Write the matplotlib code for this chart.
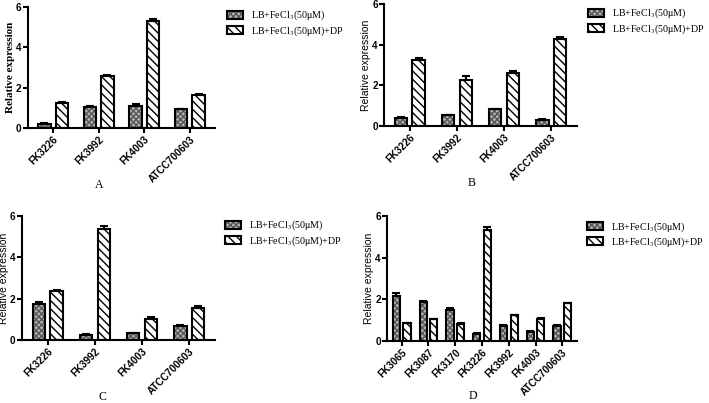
import matplotlib
matplotlib.use('Agg')
import matplotlib.pyplot as plt
from matplotlib.patches import Patch
from matplotlib.legend_handler import HandlerTuple
import numpy as np

plt.rcParams['hatch.linewidth'] = 1.0
plt.rcParams['mathtext.fontset'] = 'stix'

# panel A
strains_a = ['FK3226', 'FK3992', 'FK4003', 'ATCC700603']
fe_a = [0.22, 1.06, 1.08, 0.93]
fe_err_a = [0.03, 0.05, 0.10, 0.03]
dp_a = [1.23, 2.56, 5.30, 1.64]
dp_err_a = [0.04, 0.08, 0.12, 0.03]

# panel B
strains_b = ['FK3226', 'FK3992', 'FK4003', 'ATCC700603']
fe_b = [0.41, 0.52, 0.83, 0.31]
fe_err_b = [0.02, 0.02, 0.03, 0.03]
dp_b = [3.24, 2.28, 2.60, 4.28]
dp_err_b = [0.12, 0.16, 0.10, 0.10]

# panel C
strains_c = ['FK3226', 'FK3992', 'FK4003', 'ATCC700603']
fe_c = [1.74, 0.26, 0.34, 0.68]
fe_err_c = [0.12, 0.03, 0.02, 0.03]
dp_c = [2.35, 5.37, 1.03, 1.56]
dp_err_c = [0.05, 0.17, 0.06, 0.10]

# panel D
strains_d = ['FK3065', 'FK3087', 'FK3170', 'FK3226', 'FK3992', 'FK4003', 'ATCC700603']
fe_d = [2.18, 1.86, 1.49, 0.35, 0.73, 0.45, 0.74]
fe_err_d = [0.14, 0.06, 0.08, 0.02, 0.03, 0.02, 0.03]
dp_d = [0.85, 1.05, 0.83, 5.32, 1.24, 1.07, 1.81]
dp_err_d = [0.02, 0.02, 0.02, 0.14, 0.02, 0.03, 0.03]

label_fe = 'LB+FeCl$_3$(50μM)'
label_dp = 'LB+FeCl$_3$(50μM)+DP'

W, H = 709, 403
fig = plt.figure(figsize=(W / 100, H / 100), dpi=100)

FE_HATCH = 'xxxxxx'
DP_HATCH = '\\\\\\\\'


def px_axes(left, right, top, bottom):
    return fig.add_axes((left / W, 1 - bottom / H, (right - left) / W, (bottom - top) / H))


def draw_panel(ax, strains, fe, fe_err, dp, dp_err, width, off, ylabel_serif=False):
    x = np.arange(len(strains))
    # checkered bars for FeCl3
    ax.bar(x - off, fe, width, color='#b4b4b4', hatch=FE_HATCH, edgecolor='#555555', linewidth=0, zorder=2)
    ax.bar(x - off, fe, width, fill=False, edgecolor='black', linewidth=1.5, zorder=3)
    ax.errorbar(x - off, fe, yerr=[np.zeros(len(fe)), fe_err], fmt='none', ecolor='black',
                elinewidth=1.5, capsize=3, capthick=1.5, zorder=4)
    # striped bars for +DP
    ax.bar(x + off, dp, width, color='white', hatch=DP_HATCH, edgecolor='black', linewidth=1.5, zorder=2)
    ax.errorbar(x + off, dp, yerr=[np.zeros(len(dp)), dp_err], fmt='none', ecolor='black',
                elinewidth=1.5, capsize=3, capthick=1.5, zorder=4)

    ax.set_ylim(0, 6)
    ax.set_yticks([0, 2, 4, 6])
    ax.set_xlim(-0.55, len(strains) - 0.45)
    ax.set_xticks(x)
    ax.set_xticklabels(strains, rotation=45, ha='right', rotation_mode='anchor',
                       fontsize=7.2, fontweight='bold', family='Liberation Sans')
    for t in ax.get_yticklabels():
        t.set_fontsize(7.2)
        t.set_fontweight('bold')
        t.set_family('Liberation Sans')
    for s in ['top', 'right']:
        ax.spines[s].set_visible(False)
    for s in ['left', 'bottom']:
        ax.spines[s].set_linewidth(1.5)
    ax.tick_params(axis='both', width=1.5, length=3.5, pad=1)
    if ylabel_serif:
        ax.set_ylabel('Relative expression', fontsize=8, fontweight='bold',
                      family='Liberation Serif', labelpad=1)
    else:
        ax.set_ylabel('Relative expression', fontsize=7.5, family='Liberation Sans', labelpad=0.5)


def add_legend(ax, x, y):
    h_fe = (Patch(facecolor='#b4b4b4', hatch=FE_HATCH, edgecolor='#555555', linewidth=0),
            Patch(fill=False, edgecolor='black', linewidth=1.5))
    h_dp = Patch(facecolor='white', hatch=DP_HATCH, edgecolor='black', linewidth=1.5)
    ax.legend([h_fe, h_dp], [label_fe, label_dp], handler_map={tuple: HandlerTuple(ndivide=1)},
              loc='upper left', bbox_to_anchor=(x / W, 1 - y / H), bbox_transform=fig.transFigure,
              frameon=False, borderpad=0, borderaxespad=0, handlelength=1.6, handleheight=0.85,
              handletextpad=0.8, labelspacing=0.15, prop={'family': 'Liberation Serif', 'size': 7.2})


ax_a = px_axes(28, 215, 7, 128)
draw_panel(ax_a, strains_a, fe_a, fe_err_a, dp_a, dp_err_a, 0.27, 0.19, ylabel_serif=True)
add_legend(ax_a, 227, 9)

ax_b = px_axes(384, 577, 4, 126)
draw_panel(ax_b, strains_b, fe_b, fe_err_b, dp_b, dp_err_b, 0.27, 0.19)
add_legend(ax_b, 588, 7)

ax_c = px_axes(22, 215, 216, 340)
draw_panel(ax_c, strains_c, fe_c, fe_err_c, dp_c, dp_err_c, 0.27, 0.19)
add_legend(ax_c, 225, 219)

ax_d = px_axes(387, 577, 216, 341)
draw_panel(ax_d, strains_d, fe_d, fe_err_d, dp_d, dp_err_d, 0.27, 0.2)
add_legend(ax_d, 587, 220)

for letter, px, py in [('A', 99, 185), ('B', 472, 183), ('C', 102, 397), ('D', 473, 396)]:
    fig.text(px / W, 1 - py / H, letter, ha='center', va='center', fontsize=8.5, family='Liberation Serif')

fig.savefig('out.png', dpi=100)
